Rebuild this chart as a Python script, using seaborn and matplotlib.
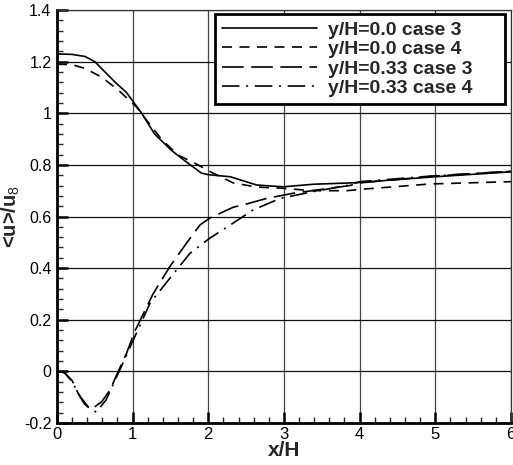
import matplotlib
matplotlib.use("Agg")
import matplotlib.pyplot as plt
from matplotlib.ticker import MultipleLocator
import seaborn as sns

# data
x_c3_y0 = [0, 0.2, 0.37, 0.5, 0.77, 0.92, 1.12, 1.29, 1.51, 1.73, 1.91, 2.0, 2.29, 2.64, 2.99, 3.39, 3.87, 4.0, 5.0, 6.0]
u_c3_y0 = [1.23, 1.228, 1.22, 1.20, 1.12, 1.08, 1.00, 0.92, 0.857, 0.807, 0.768, 0.762, 0.754, 0.722, 0.715, 0.725, 0.73, 0.732, 0.754, 0.773]

x_c4_y0 = [0, 0.2, 0.37, 0.59, 0.81, 1.05, 1.2, 1.38, 1.6, 1.82, 2.05, 2.33, 2.64, 2.95, 3.38, 3.83, 4.05, 4.93, 6.0]
u_c4_y0 = [1.19, 1.188, 1.174, 1.14, 1.09, 1.025, 0.967, 0.90, 0.838, 0.807, 0.77, 0.73, 0.714, 0.71, 0.70, 0.70, 0.706, 0.726, 0.735]

x_c3_y33 = [0, 0.1, 0.2, 0.28, 0.36, 0.45, 0.59, 0.70, 0.81, 0.92, 1.02, 1.27, 1.49, 1.71, 1.89, 2.02, 2.33, 2.5, 2.77, 3.12, 3.52, 3.87, 4.0, 5.0, 6.0]
u_c3_y33 = [0.0, -0.005, -0.035, -0.085, -0.125, -0.148, -0.118, -0.073, 0.0, 0.07, 0.15, 0.30, 0.405, 0.496, 0.567, 0.594, 0.636, 0.648, 0.67, 0.69, 0.706, 0.72, 0.73, 0.757, 0.775]

x_c4_y33 = [0, 0.1, 0.2, 0.3, 0.42, 0.52, 0.65, 0.83, 1.05, 1.23, 1.49, 1.76, 2.02, 2.29, 2.59, 2.95, 3.38, 3.87, 4.0, 5.0, 6.0]
u_c4_y33 = [0.0, -0.005, -0.04, -0.095, -0.14, -0.158, -0.11, 0.005, 0.148, 0.264, 0.36, 0.458, 0.516, 0.567, 0.625, 0.67, 0.696, 0.722, 0.735, 0.758, 0.775]

labels = ["y/H=0.0 case 3", "y/H=0.0 case 4", "y/H=0.33 case 3", "y/H=0.33 case 4"]
xticks = [0, 1, 2, 3, 4, 5, 6]
yticks = [-0.2, 0, 0.2, 0.4, 0.6, 0.8, 1, 1.2, 1.4]
ytick_labels = ["-0.2", "0", "0.2", "0.4", "0.6", "0.8", "1", "1.2", "1.4"]

sns.set_style("white")
plt.rcParams['font.family'] = ['Liberation Sans', 'DejaVu Sans']
plt.rcParams['mathtext.fontset'] = 'custom'
plt.rcParams['mathtext.rm'] = 'Liberation Sans'
plt.rcParams['mathtext.bf'] = 'Liberation Sans:bold'

fig = plt.figure(figsize=(5.13, 4.65), dpi=100)
ax = fig.add_axes([0.111, 0.0903, 0.885, 0.8882])

styles = ['-', (0, (6, 4.5)), (0, (13, 4.5)), (0, (10.5, 4, 1.2, 4))]
data = [(x_c3_y0, u_c3_y0), (x_c4_y0, u_c4_y0), (x_c3_y33, u_c3_y33), (x_c4_y33, u_c4_y33)]

for (xs, ys), ls, lab in zip(data, styles, labels):
    sns.lineplot(x=xs, y=ys, ax=ax, color='black', lw=1.2, linestyle=ls,
                 label=lab, estimator=None, sort=False)

ax.set_xlim(0, 6)
ax.set_ylim(-0.2, 1.4)
ax.set_xticks(xticks)
ax.set_xticklabels([str(v) for v in xticks])
ax.set_yticks(yticks)
ax.set_yticklabels(ytick_labels)
ax.xaxis.set_minor_locator(MultipleLocator(0.2))
ax.yaxis.set_minor_locator(MultipleLocator(0.04))

ax.grid(False)
ax.yaxis.grid(True, which='major', color='#111111', lw=0.9)
ax.xaxis.grid(True, which='major', color='#444444', lw=0.9)
ax.tick_params(which='major', direction='in', length=8, width=1.8, labelsize=11.5, pad=4,
               top=False, right=False, left=True, bottom=True, colors='black')
ax.tick_params(axis='x', which='major', labelsize=12, pad=3)
ax.tick_params(which='minor', direction='in', length=4.5, width=1.0, top=False, right=False,
               left=True, bottom=True)
for s in ['left', 'bottom']:
    ax.spines[s].set_linewidth(2.0)
    ax.spines[s].set_color('black')
for s in ['top', 'right']:
    ax.spines[s].set_linewidth(0.9)
    ax.spines[s].set_color('#333333')

ax.set_xlabel("x/H", fontsize=15, fontweight='bold', labelpad=-1)
ax.set_ylabel(r"<u>/u$_{8}$", fontsize=14.5, fontweight='bold', labelpad=1)

leg = ax.legend(loc='upper right', bbox_to_anchor=(0.348, 0.746, 0.639, 0.244), mode='expand',
                borderaxespad=0, frameon=True, fancybox=False,
                handlelength=4.9, handletextpad=0.55, borderpad=0.35, labelspacing=0.1,
                prop={'weight': 'bold', 'size': 14, 'family': 'Liberation Sans'})
leg.get_frame().set_edgecolor('black')
leg.get_frame().set_linewidth(2.0)
leg.get_frame().set_alpha(1)

fig.savefig("out.png", dpi=100)
